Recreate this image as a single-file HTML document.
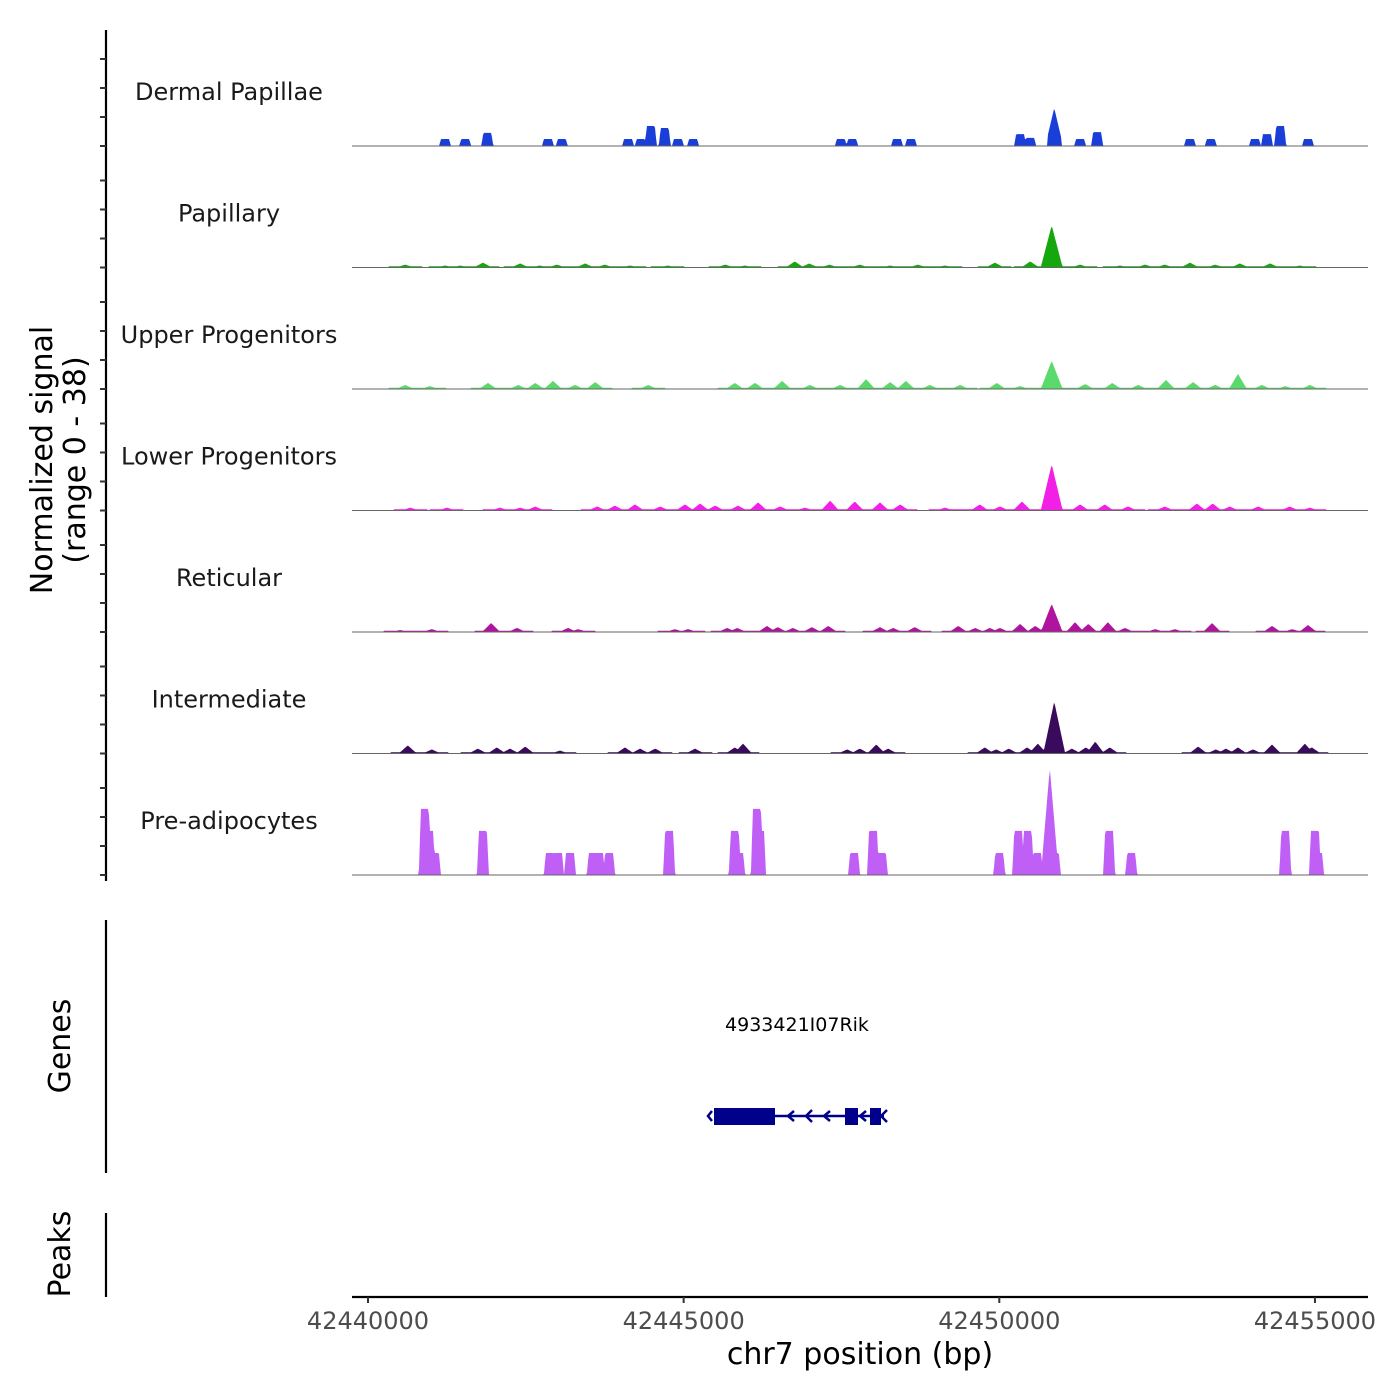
<!DOCTYPE html>
<html><head><meta charset="utf-8">
<style>
html,body{margin:0;padding:0;background:#fff;}
svg{display:block;font-family:"DejaVu Sans","Liberation Sans",sans-serif;}
</style></head>
<body>
<svg id="chart" width="1400" height="1400" viewBox="0 0 1400 1400" xmlns="http://www.w3.org/2000/svg">
<rect width="1400" height="1400" fill="#fff"/>
<g id="tracks"></g>
<g id="yaxis"></g>
<text transform="translate(52,460) rotate(-90)" text-anchor="middle" font-size="30" fill="#000">Normalized signal</text>
<text transform="translate(85,460) rotate(-90)" text-anchor="middle" font-size="30" fill="#000">(range 0 - 38)</text>
<line x1="106" y1="920" x2="106" y2="1173" stroke="#000" stroke-width="2.2"/>
<text transform="translate(70,1046) rotate(-90)" text-anchor="middle" font-size="30" fill="#000">Genes</text>
<line x1="106" y1="1213" x2="106" y2="1297" stroke="#000" stroke-width="2.2"/>
<text transform="translate(70,1254) rotate(-90)" text-anchor="middle" font-size="30" fill="#000">Peaks</text>
<g id="gene">
<text x="797" y="1031" text-anchor="middle" font-size="19" fill="#000">4933421I07Rik</text>
<line x1="714" y1="1116" x2="884" y2="1116" stroke="#00008b" stroke-width="2.5"/>
<rect x="714" y="1108" width="61" height="17" fill="#00008b"/>
<rect x="845" y="1108" width="13" height="17" fill="#00008b"/>
<rect x="870" y="1108" width="11" height="17" fill="#00008b"/>
<path d="M794 1111 l-6 5 l6 5 M812 1110 l-6 6 l6 6 M830 1111 l-6 5 l6 5 M866 1111 l-6 5 l6 5 M887 1110 l-6 6 l6 6 M712 1111 l-4 5 l4 5" stroke="#00008b" stroke-width="2.5" fill="none"/>
</g>
<g id="xaxis"></g>
<text x="860" y="1364" text-anchor="middle" font-size="30" fill="#000">chr7 position (bp)</text>
</svg>
<script>
// x positions in kb offset from 42440000
const trackNames = ["Dermal Papillae","Papillary","Upper Progenitors","Lower Progenitors","Reticular","Intermediate","Pre-adipocytes"];
const trackColors = ["#1a3ed8","#14a80e","#5bd96a","#f21fe6","#b0149e","#3a0a5c","#c05ff5"];
const dpPos = [1.22,1.54,1.89,2.85,3.07,4.12,4.32,4.48,4.70,4.91,5.15,7.49,7.67,8.38,8.60,10.33,10.49,10.87,11.28,11.55,13.02,13.35,14.05,14.24,14.45,14.89];
const dpVal = [2.4,2.4,4.5,2.4,2.4,2.4,2.4,6.9,6.2,2.4,2.4,2.4,2.4,2.4,2.4,4.1,2.8,13.1,2.4,4.8,2.4,2.4,2.4,4.1,6.9,2.4];
const papPos = [0.59,1.22,1.46,1.82,2.41,2.72,2.99,3.44,3.75,4.15,4.75,5.66,5.97,6.76,6.99,7.31,7.79,8.27,8.71,9.14,9.93,10.49,10.83,11.28,11.91,12.31,12.62,13.02,13.42,13.81,14.29,14.76];
const papVal = [1,0.7,0.7,1.7,1.4,0.7,1,1.4,1,0.7,0.7,1,0.7,2.1,1.4,1,1,0.7,1,0.7,1.7,2.1,14.5,1,0.7,1,1,1.7,1,1.4,1.4,0.7];
const upPos = [0.59,0.98,1.90,2.38,2.65,2.93,3.28,3.60,4.44,5.81,6.13,6.56,7.00,7.48,7.89,8.27,8.52,8.90,9.38,9.96,10.33,10.83,11.36,11.79,12.20,12.64,13.07,13.42,13.78,14.16,14.53,14.92];
const upVal = [1.4,1,2.1,1.4,2.1,2.8,1.4,2.4,1.4,2.1,2.1,2.8,1.4,1.4,3.4,2.4,2.8,1.4,1.4,2.1,1,9.7,1.7,2.1,1.4,3.1,2.4,1.4,5.2,1.4,1,1.4];
const lowPos = [0.67,1.25,2.09,2.41,2.65,3.63,3.91,4.23,4.63,5.02,5.26,5.50,5.86,6.18,6.53,6.92,7.32,7.71,8.11,8.43,9.14,9.69,10.01,10.36,10.83,11.28,11.67,12.04,12.62,13.13,13.38,13.65,14.10,14.60,14.92];
const lowVal = [1,1,1,1,1.4,1.4,1.7,2.1,1.4,2.1,2.4,1.7,1.7,2.8,1.4,1,3.4,3.1,2.8,2.1,1,2.1,1.4,3.1,15.9,2.1,2.1,1.4,1.4,2.4,2.4,1.4,1.4,1.4,1];
const retPos = [0.51,1.01,1.95,2.36,3.17,3.33,4.86,5.07,5.69,5.85,6.32,6.49,6.73,7.03,7.29,8.11,8.32,8.66,9.35,9.62,9.85,10.01,10.33,10.57,10.83,11.20,11.41,11.72,11.99,12.47,12.78,13.37,14.32,14.64,14.89];
const retVal = [0.7,1,3.1,1.4,1.4,1,1,1,1.4,1.4,2.1,1.7,1.4,1.7,2.1,1.7,1.4,1.7,2.1,1.4,1.4,1.4,2.8,2.1,9.7,3.4,2.8,3.4,1.4,1,1,3.1,2.1,1,2.4];
const intPos = [0.63,1.01,1.74,2.04,2.25,2.49,3.04,4.07,4.31,4.55,5.18,5.81,5.94,7.59,7.79,8.05,8.24,9.77,9.95,10.15,10.44,10.61,10.87,11.15,11.37,11.52,11.75,13.15,13.43,13.59,13.78,14.02,14.32,14.84,14.95];
const intVal = [2.8,1.4,1.7,2.1,1.7,2.4,1,2.1,1.7,1.7,1.7,2.1,3.4,1.4,1.7,3.1,1.7,2.1,1.4,1.7,2.1,3.4,17.9,1.7,2.1,4.1,2.1,2.4,1.4,1.7,2.1,1.4,3.1,3.4,2.1];
const prePos = [0.90,0.97,1.06,1.82,2.88,3.01,3.20,3.56,3.66,3.82,4.77,5.81,5.88,6.16,6.21,7.70,8.00,8.14,10.00,10.30,10.45,10.60,10.80,10.88,11.74,12.09,14.53,15.00,15.05];
const preVal = [22.8,15.2,7.6,15.2,7.6,7.6,7.6,7.6,7.6,7.6,15.2,15.2,7.6,22.8,15.2,7.6,15.2,7.6,7.6,15.2,15.2,7.6,36.9,7.6,15.2,7.6,15.2,15.2,7.6];
const trackPos = [dpPos,papPos,upPos,lowPos,retPos,intPos,prePos];
const trackVal = [dpVal,papVal,upVal,lowVal,retVal,intVal,preVal];
const xTicks = [42440000,42445000,42450000,42455000];
const yBreaks = [0,10,20,30];

const NS="http://www.w3.org/2000/svg";
const X0=368, PXKB=63.13, PLOTL=352, PLOTR=1368;
const BASE0=146, STEP=121.5, PXU=2.9;
function xs(kb){return X0+kb*PXKB;}
function xbp(bp){return X0+(bp-42440000)/1000*PXKB;}
function mk(tag,attrs,parent){const e=document.createElementNS(NS,tag);for(const k in attrs)e.setAttribute(k,attrs[k]);parent.appendChild(e);return e;}
const tracks=document.getElementById('tracks');
const yaxis=document.getElementById('yaxis');
mk('line',{x1:106,y1:30,x2:106,y2:881,stroke:'#000','stroke-width':2.2},yaxis);
trackNames.forEach((nm,i)=>{
  const base=BASE0+i*STEP;
  const g=mk('g',{},tracks);
  
  
  const lab=mk('text',{x:229,y:base-46,'text-anchor':'middle','font-size':24,fill:'#1a1a1a'},g);
  lab.textContent=nm;
  
  
  const block=(i===0||i===6);
  const pos=trackPos[i], val=trackVal[i];
  const ys=[];
  for(let x=PLOTL;x<=PLOTR;x++){
    let h=0;
    for(let j=0;j<pos.length;j++){
      const c=xs(pos[j]); const v=val[j]*PXU;
      const d=Math.abs(x-c);
      let y=0;
      if(block){
        const big = i===0 ? v>25 : v>80;
        if(big){ y = d<7 ? v*(1-d/9) : 0; }
        else { const hw=4; y = d<=hw?v:(d<=hw+2?v*(1-(d-hw)/2):0); }
      } else {
        const hw=v>25?11:9;
        y = d<hw?v*(1-d/hw):0;
        if(d<hw+8 && y<1.2) y=Math.max(y,1.2);
      }
      if(y>h)h=y;
    }
    ys.push(h);
  }
  let d='M'+PLOTL+' '+base;
  ys.forEach((h,k)=>{d+=' L'+(PLOTL+k)+' '+(base-h).toFixed(1);});
  d+=' L'+PLOTR+' '+base+' Z';
  const p=mk('path',{d:d,fill:trackColors[i]},g);
  
  
  const bl=mk('line',{x1:PLOTL,y1:base,x2:PLOTR,y2:base,stroke:'#666','stroke-width':1},g);
  
  
  yBreaks.forEach(b=>{
    const t=mk('line',{x1:100,y1:base-b*PXU,x2:106,y2:base-b*PXU,stroke:'#333','stroke-width':2},yaxis);
    
    
  });
});
const xa=document.getElementById('xaxis');
mk('line',{x1:PLOTL,y1:1297,x2:PLOTR,y2:1297,stroke:'#000','stroke-width':2.2},xa);
xTicks.forEach(v=>{
  const x=xbp(v);
  const t=mk('line',{x1:x,y1:1297,x2:x,y2:1303,stroke:'#333','stroke-width':2},xa);
  
  
  const l=mk('text',{x:x,y:1329,'text-anchor':'middle','font-size':24,fill:'#4d4d4d'},xa);
  l.textContent=String(v);
  
  
});
</script>
</body></html>
